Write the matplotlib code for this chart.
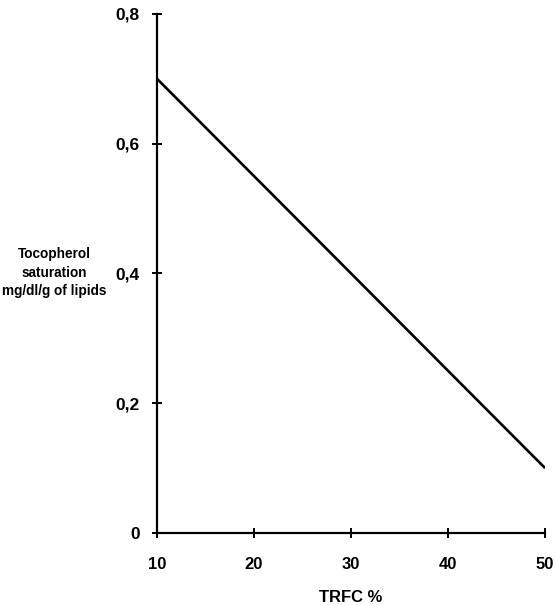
import matplotlib.pyplot as plt

trfc = [10, 50]
saturation = [0.7, 0.1]
x_ticks = [10, 20, 30, 40, 50]
y_ticks = [0, 0.2, 0.4, 0.6, 0.8]
y_tick_labels = ['0', '0,2', '0,4', '0,6', '0,8']

plt.rcParams['font.family'] = ['Liberation Sans', 'DejaVu Sans']

fig = plt.figure(figsize=(5.56, 6.05), dpi=100)
ax = fig.add_axes([0.2824, 0.119, 0.698, 0.858])

ax.plot(trfc, saturation, color='black', lw=1.9, solid_capstyle='butt')

ax.set_xlim(10, 50)
ax.set_ylim(0, 0.8)
ax.set_xticks(x_ticks)
ax.set_xticklabels([str(t) for t in x_ticks], fontsize=12, fontweight='bold')
ax.set_yticks(y_ticks)
ax.set_yticklabels(y_tick_labels, fontsize=12.5, fontweight='bold')

for s in ['top', 'right']:
    ax.spines[s].set_visible(False)
for s in ['left', 'bottom']:
    ax.spines[s].set_linewidth(1.6)

ax.tick_params(axis='x', direction='inout', length=7, width=1.4, pad=14)
ax.tick_params(axis='y', direction='inout', length=7, width=1.4, pad=9)

ax.set_xlabel('TRFC %', fontsize=12, fontweight='bold', labelpad=13)
fig.text(0.098, 0.549, 'Tocopherol\nsaturation\nmg/dl/g of lipids',
         ha='center', va='center', fontsize=9.8, fontweight='bold', linespacing=1.4)

fig.savefig('out.png', dpi=100, facecolor='white')
